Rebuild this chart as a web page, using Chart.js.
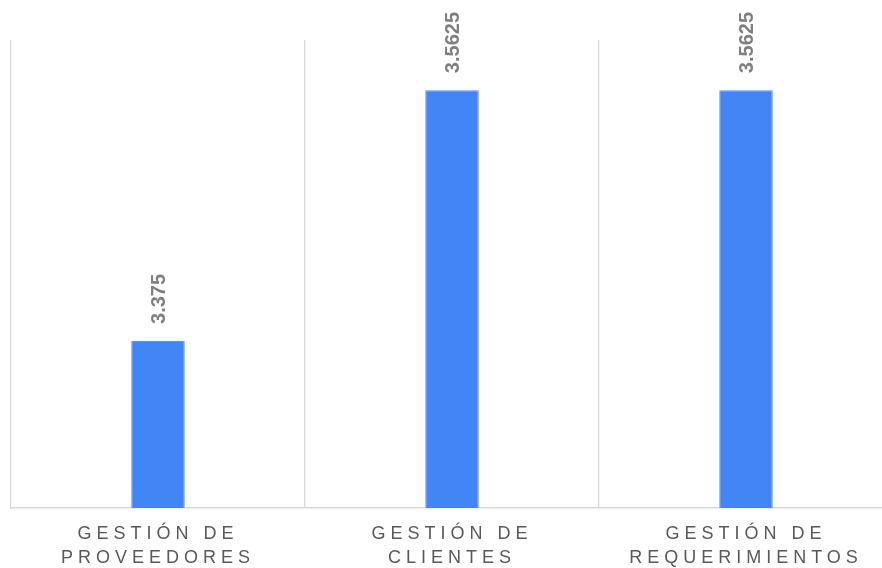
<!DOCTYPE html>
<html>
<head>
<meta charset="utf-8">
<script src="https://cdn.jsdelivr.net/npm/chart.js@4/dist/chart.umd.min.js"></script>
<style>
html,body{margin:0;padding:0;background:#fff;overflow:hidden;}
#wrap{position:relative;width:894px;height:584px;}
</style>
</head>
<body>
<div id="wrap"><canvas id="c"></canvas></div>
<script>
const categories = [["GESTIÓN DE","PROVEEDORES"],["GESTIÓN DE","CLIENTES"],["GESTIÓN DE","REQUERIMIENTOS"]];
const values = [3.375, 3.5625, 3.5625];
const valueLabels = ["3.375", "3.5625", "3.5625"];

const spacingPlugin = {
  id: 'spacing',
  beforeDraw(chart){ chart.ctx.letterSpacing = '5px'; },
  beforeDatasetsDraw(chart){ chart.ctx.letterSpacing = '0px'; }
};
const labelPlugin = {
  id: 'vlabels',
  afterDatasetsDraw(chart){
    const ctx = chart.ctx;
    const meta = chart.getDatasetMeta(0);
    ctx.save();
    ctx.letterSpacing = '0px';
    ctx.font = 'bold 20px "Liberation Sans", Arial, sans-serif';
    ctx.fillStyle = '#7f7f7f';
    ctx.textAlign = 'left';
    ctx.textBaseline = 'middle';
    meta.data.forEach((bar, i) => {
      ctx.save();
      ctx.translate(bar.x + 1, bar.y - 17);
      ctx.rotate(-Math.PI / 2);
      ctx.fillText(valueLabels[i], 0, 0);
      ctx.restore();
    });
    ctx.restore();
  }
};

new Chart(document.getElementById('c'), {
  type: 'bar',
  data: {
    labels: categories,
    datasets: [{
      data: values,
      backgroundColor: '#4285f4',
      borderColor: '#5a95f5',
      borderWidth: 1,
      barPercentage: 1,
      categoryPercentage: 0.182
    }]
  },
  options: {
    responsive: true,
    maintainAspectRatio: false,
    animation: false,
    layout: { padding: { left: 11, right: 1, top: 40, bottom: 0 } },
    plugins: { legend: { display: false }, tooltip: { enabled: false } },
    scales: {
      x: {
        offset: true,
        grid: { display: true, offset: true, color: '#d9d9d9', lineWidth: 1.3, drawTicks: false },
        border: { display: true, color: '#d9d9d9', width: 1.5 },
        ticks: {
          autoSkip: false, maxRotation: 0, minRotation: 0, padding: 14,
          color: '#595959',
          font: { family: '"Liberation Sans", Arial, sans-serif', size: 18, lineHeight: 1.33 }
        }
      },
      y: {
        display: false,
        min: 3.25,
        max: 3.6
      }
    }
  },
  plugins: [spacingPlugin, labelPlugin]
});
</script>
</body>
</html>
